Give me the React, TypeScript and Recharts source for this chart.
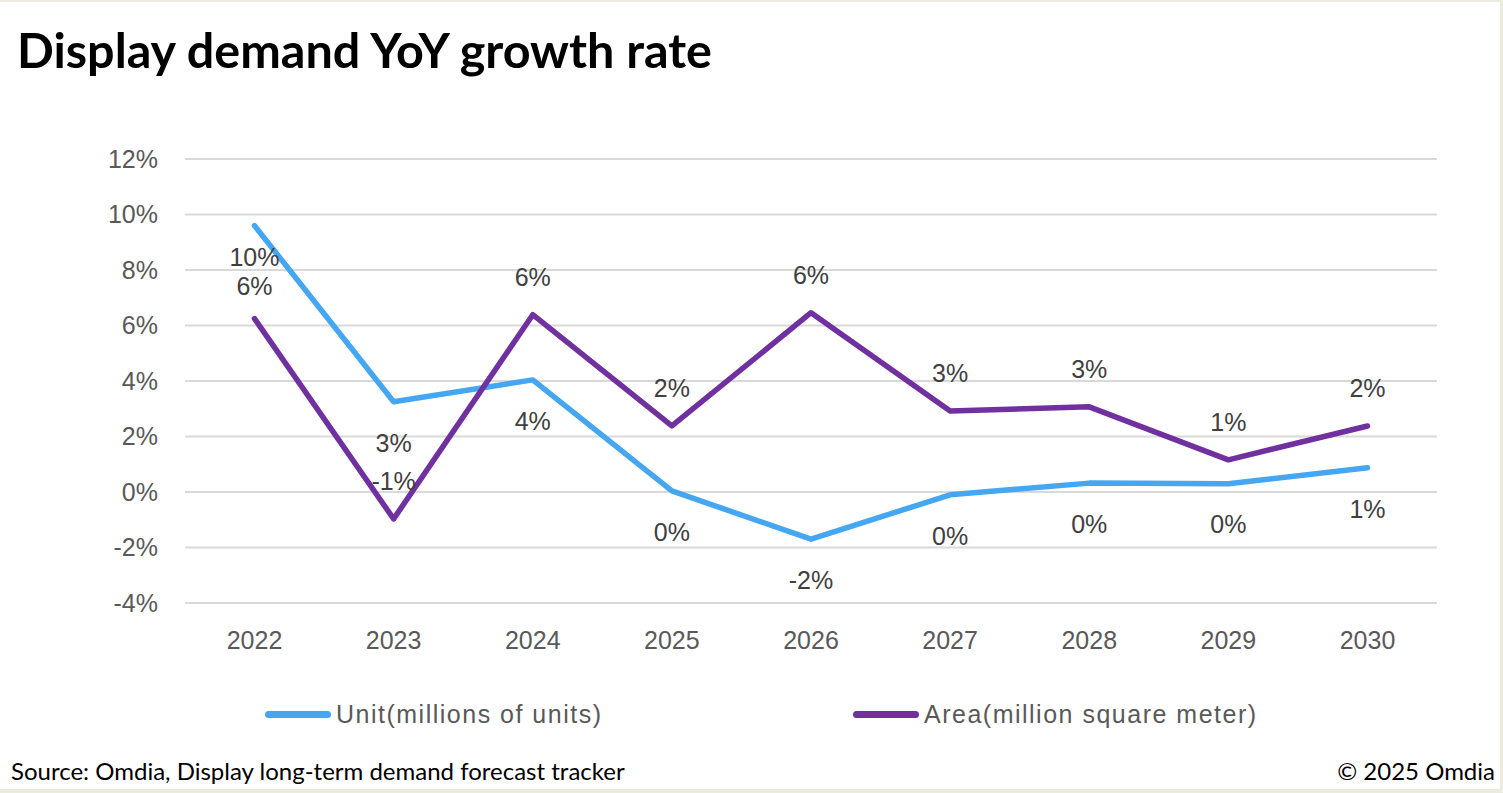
import React from "react";
import { LineChart, Line, XAxis, YAxis, CartesianGrid, LabelList } from "recharts";

const years = ["2022", "2023", "2024", "2025", "2026", "2027", "2028", "2029", "2030"];
const unitGrowth = [9.6, 3.25, 4.04, 0.04, -1.7, -0.1, 0.32, 0.3, 0.87];
const areaGrowth = [6.25, -0.97, 6.39, 2.38, 6.46, 2.92, 3.07, 1.16, 2.38];
const yTicks = [-4, -2, 0, 2, 4, 6, 8, 10, 12];

const UNIT_COLOR = "#45A6F2";
const AREA_COLOR = "#7030A0";
const TEXT_GRAY = "#595959";
const LABEL_GRAY = "#404040";
const AXIS_FONT = "'Liberation Sans', Arial, sans-serif";
const NOTE_FONT = "Lato, 'Open Sans', sans-serif";

const chartData = years.map((year, i) => ({
  year,
  unit: unitGrowth[i],
  area: areaGrowth[i],
}));

const pct = (v: number) => `${Math.round(v) || 0}%`;

// Data label renderer: below the point for Unit, above for Area.
// The first pair sits a bit tighter so the two labels don't collide (as in the source).
function makeLabel(below: boolean) {
  return (props: any) => {
    const { x = 0, y = 0, value = 0, index = 0 } = props;
    const offset = below ? (index === 0 ? 23 : 32) : index === 0 ? 24 : 29;
    return (
      <text
        x={x}
        y={below ? y + offset : y - offset}
        dy={below ? "0.71em" : 0}
        textAnchor="middle"
        fill={LABEL_GRAY}
        fontSize={25}
        fontFamily={AXIS_FONT}
      >
        {pct(Number(value))}
      </text>
    );
  };
}

function LegendItem({ color, label, left }: { color: string; label: string; left: number }) {
  return (
    <div style={{ position: "absolute", left, top: 698, display: "flex", alignItems: "center" }}>
      <span
        style={{
          display: "inline-block",
          width: 66,
          height: 7,
          borderRadius: 4,
          background: color,
          marginRight: 5,
        }}
      />
      <span style={{ fontFamily: AXIS_FONT, fontSize: 25, letterSpacing: 1.5, color: TEXT_GRAY }}>
        {label}
      </span>
    </div>
  );
}

export default function App() {
  return (
    <div
      style={{
        position: "absolute",
        left: 0,
        top: 0,
        width: 1503,
        height: 793,
        background: "#fff",
        overflow: "hidden",
        boxSizing: "border-box",
        borderTop: "2px solid #EDEBDD",
        borderRight: "3px solid #EDEBDD",
        borderBottom: "4px solid #EDEBDD",
      }}
    >
      <div
        style={{
          position: "absolute",
          left: 17,
          top: 18,
          fontFamily: NOTE_FONT,
          fontWeight: 700,
          fontSize: 48.5,
          color: "#000",
          whiteSpace: "nowrap",
        }}
      >
        Display demand YoY growth rate
      </div>

      <div style={{ position: "absolute", left: 0, top: -2 }}>
        <LineChart
          width={1503}
          height={793}
          data={chartData}
          margin={{ top: 159, right: 66, bottom: 150, left: 95 }}
        >
          <CartesianGrid vertical={false} stroke="#D9D9D9" strokeWidth={2} />
          <XAxis
            dataKey="year"
            axisLine={false}
            tickLine={false}
            height={40}
            tickMargin={22}
            padding={{ left: 69.5, right: 69.5 }}
            tick={{ fill: TEXT_GRAY, fontSize: 25, fontFamily: AXIS_FONT }}
          />
          <YAxis
            width={90}
            domain={[-4, 12]}
            ticks={yTicks}
            allowDataOverflow
            axisLine={false}
            tickLine={false}
            tickMargin={21}
            tickFormatter={(v: number) => `${v}%`}
            tick={{ fill: TEXT_GRAY, fontSize: 25, fontFamily: AXIS_FONT }}
          />
          <Line
            dataKey="unit"
            stroke={UNIT_COLOR}
            strokeWidth={5.5}
            strokeLinejoin="round"
            strokeLinecap="round"
            dot={false}
            activeDot={false}
            isAnimationActive={false}
          >
            <LabelList dataKey="unit" content={makeLabel(true)} />
          </Line>
          <Line
            dataKey="area"
            stroke={AREA_COLOR}
            strokeWidth={5.5}
            strokeLinejoin="round"
            strokeLinecap="round"
            dot={false}
            activeDot={false}
            isAnimationActive={false}
          >
            <LabelList dataKey="area" content={makeLabel(false)} />
          </Line>
        </LineChart>
      </div>

      <LegendItem color={UNIT_COLOR} label="Unit(millions of units)" left={265} />
      <LegendItem color={AREA_COLOR} label="Area(million square meter)" left={853} />

      <div
        style={{
          position: "absolute",
          left: 11,
          top: 754,
          fontFamily: NOTE_FONT,
          fontSize: 24,
          color: "#000",
          whiteSpace: "nowrap",
        }}
      >
        Source: Omdia, Display long-term demand forecast tracker
      </div>
      <div
        style={{
          position: "absolute",
          right: 5,
          top: 754,
          fontFamily: NOTE_FONT,
          fontSize: 24,
          color: "#000",
          whiteSpace: "nowrap",
        }}
      >
        © 2025 Omdia
      </div>
    </div>
  );
}
